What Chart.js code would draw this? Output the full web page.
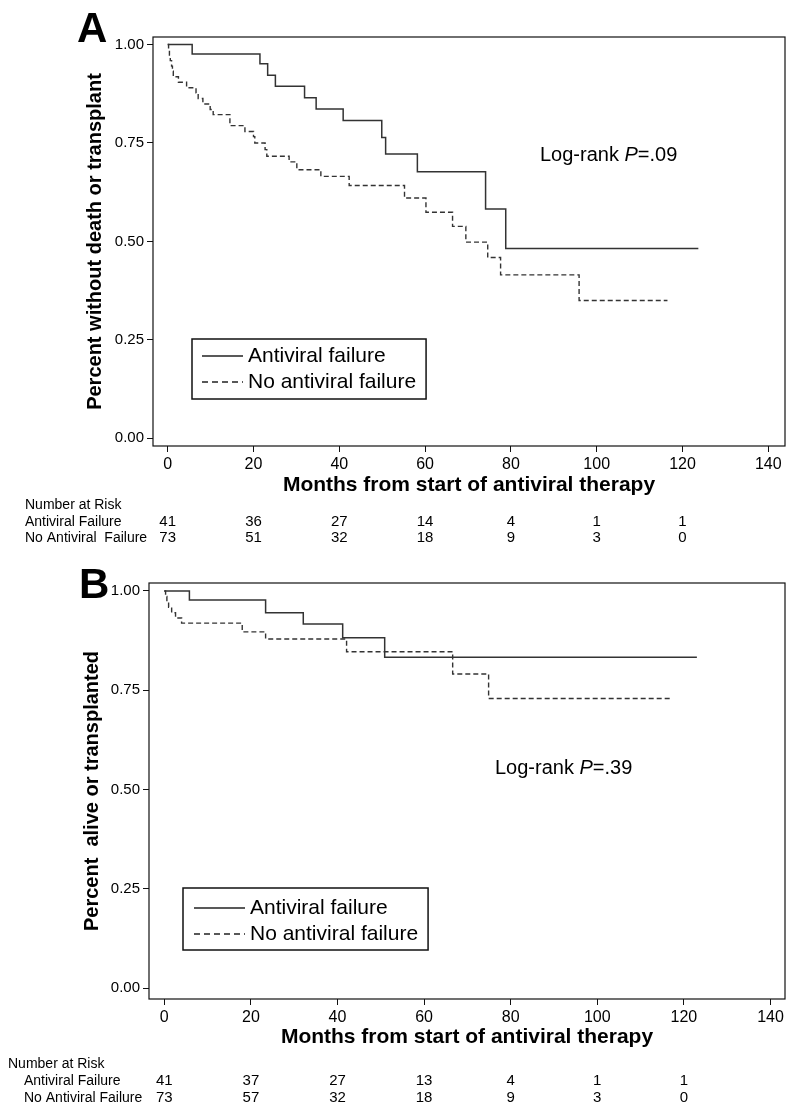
<!DOCTYPE html>
<html><head><meta charset="utf-8">
<script src="https://cdn.jsdelivr.net/npm/chart.js@4.4.1/dist/chart.umd.min.js"></script>
<style>
html,body{margin:0;padding:0;background:#fff;}
canvas{display:block;}
</style></head>
<body>
<canvas id="chartA" width="800" height="558"></canvas>
<canvas id="chartB" width="800" height="558"></canvas>
<script>
// ---------- data ----------
const xTickValues = [0, 20, 40, 60, 80, 100, 120, 140];
const yTickValues = [0, 0.25, 0.5, 0.75, 1];
const riskTimes = [0, 20, 40, 60, 80, 100, 120];
const seriesNames = ['Antiviral failure', 'No antiviral failure'];

// Panel A: death or transplant
const aFailTime = [0, 5.7, 21.5, 23.3, 25.1, 31.9, 34.6, 40.9, 49.9, 50.8, 58.2, 74.1, 78.8, 123.7];
const aFailSurv = [1.0, 0.976, 0.951, 0.922, 0.894, 0.865, 0.836, 0.807, 0.764, 0.722, 0.677, 0.582, 0.482, 0.482];
const aNoFailTime = [0, 0.2, 0.4, 0.6, 0.9, 1.1, 1.3, 2.5, 4.4, 6.6, 7.1, 8.2, 9.9, 10.6, 14.5, 18.0, 20.0, 20.3, 22.7, 23.1, 28.3, 30.1, 35.7, 42.3, 55.2, 60.2, 66.4, 69.5, 74.6, 77.6, 95.9, 116.5];
const aNoFailSurv = [1.0, 0.986, 0.973, 0.959, 0.945, 0.932, 0.918, 0.904, 0.890, 0.877, 0.863, 0.849, 0.835, 0.822, 0.794, 0.779, 0.766, 0.750, 0.733, 0.716, 0.702, 0.682, 0.665, 0.642, 0.610, 0.574, 0.538, 0.498, 0.459, 0.415, 0.350, 0.350];
const aRiskFail = [41, 36, 27, 14, 4, 1, 1];
const aRiskNoFail = [73, 51, 32, 18, 9, 3, 0];

// Panel B: alive or transplanted
const bFailTime = [0, 5.8, 23.4, 32.1, 41.2, 50.9, 123.0];
const bFailSurv = [1.0, 0.977, 0.945, 0.917, 0.882, 0.833, 0.833];
const bNoFailTime = [0, 0.3, 0.6, 1.0, 1.7, 2.6, 4.0, 18.0, 23.4, 42.1, 66.6, 74.9, 116.8];
const bNoFailSurv = [1.0, 0.986, 0.973, 0.959, 0.945, 0.932, 0.919, 0.897, 0.879, 0.847, 0.791, 0.729, 0.729];
const bRiskFail = [41, 37, 27, 13, 4, 1, 1];
const bRiskNoFail = [73, 57, 32, 18, 9, 3, 0];

// ---------- helpers ----------
const FONT = '"Liberation Sans", Arial, Helvetica, sans-serif';
const toPts = (ts, ss) => ts.map((t, i) => ({x: t, y: ss[i]}));

const panelPlugin = {
  id: 'panelDecor',
  afterDraw(chart, args, p) {
    const ctx = chart.ctx;
    const ca = chart.chartArea;
    const xs = chart.scales.x;
    ctx.save();
    // frame
    ctx.strokeStyle = '#111';
    ctx.lineWidth = 1.2;
    ctx.strokeRect(ca.left, ca.top, ca.right - ca.left, ca.bottom - ca.top);
    // panel letter
    ctx.fillStyle = '#000';
    ctx.font = 'bold 42px ' + FONT;
    ctx.textAlign = 'left';
    ctx.textBaseline = 'alphabetic';
    ctx.fillText(p.letter, p.letterX, p.letterY);
    // log-rank
    ctx.textBaseline = 'middle';
    ctx.font = '20px ' + FONT;
    let x = p.lrX;
    ctx.fillText('Log-rank ', x, p.lrY);
    x += ctx.measureText('Log-rank ').width;
    ctx.font = 'italic 20px ' + FONT;
    ctx.fillText('P', x, p.lrY);
    x += ctx.measureText('P').width;
    ctx.font = '20px ' + FONT;
    ctx.fillText(p.lrText, x, p.lrY);
    // legend
    ctx.font = '21px ' + FONT;
    const tw = Math.max(...seriesNames.map(s => ctx.measureText(s).width));
    const boxW = (p.legTextX - p.legX) + tw + 10;
    ctx.strokeStyle = '#111';
    ctx.lineWidth = 1.5;
    ctx.strokeRect(p.legX, p.legY, boxW, p.legH);
    ctx.strokeStyle = '#222';
    ctx.lineWidth = 1.5;
    ctx.beginPath();
    ctx.moveTo(p.legLineX0, p.legRowY[0]); ctx.lineTo(p.legLineX1, p.legRowY[0]);
    ctx.stroke();
    ctx.setLineDash([6, 4]);
    ctx.beginPath();
    ctx.moveTo(p.legLineX0, p.legRowY[1]); ctx.lineTo(p.legLineX1, p.legRowY[1]);
    ctx.stroke();
    ctx.setLineDash([]);
    ctx.fillStyle = '#000';
    ctx.fillText(seriesNames[0], p.legTextX, p.legRowY[0]);
    ctx.fillText(seriesNames[1], p.legTextX, p.legRowY[1]);
    // number at risk
    ctx.font = '14px ' + FONT;
    ctx.textAlign = 'left';
    ctx.fillText('Number at Risk', p.riskTitleX, p.riskRowY[0]);
    ctx.fillText(p.rowLabels[0], p.rowLabelX, p.riskRowY[1]);
    ctx.fillText(p.rowLabels[1], p.rowLabelX, p.riskRowY[2]);
    ctx.textAlign = 'center';
    ctx.font = '15px ' + FONT;
    riskTimes.forEach((t, i) => {
      const px = xs.getPixelForValue(t);
      ctx.fillText(String(p.riskFail[i]), px, p.riskRowY[1]);
      ctx.fillText(String(p.riskNoFail[i]), px, p.riskRowY[2]);
    });
    ctx.restore();
  }
};

function makePanel(id, cfg) {
  return new Chart(document.getElementById(id), {
    type: 'line',
    data: {
      datasets: [
        {label: seriesNames[0], data: toPts(cfg.failT, cfg.failS), borderColor: '#333', borderWidth: 1.5,
         stepped: 'before', pointRadius: 0, fill: false},
        {label: seriesNames[1], data: toPts(cfg.noT, cfg.noS), borderColor: '#333', borderWidth: 1.4,
         borderDash: [5, 3], stepped: 'before', pointRadius: 0, fill: false}
      ]
    },
    options: {
      responsive: false,
      animation: false,
      layout: {padding: cfg.pad},
      plugins: {legend: {display: false}, tooltip: {enabled: false}, panelDecor: cfg.decor},
      scales: {
        x: {
          type: 'linear', min: cfg.xMin, max: cfg.xMax,
          afterBuildTicks: s => { s.ticks = xTickValues.map(v => ({value: v})); },
          afterFit: s => { s.height = 60; },
          grid: {display: true, drawOnChartArea: false, drawTicks: true, tickLength: 6, tickColor: '#111', tickWidth: 1},
          border: {display: false},
          ticks: {color: '#000', font: {family: FONT, size: 16}, padding: 3, maxRotation: 0, autoSkip: false},
          title: {display: true, text: 'Months from start of antiviral therapy', color: '#000',
                  font: {family: FONT, size: 21, weight: 'bold'}, padding: {top: 4, bottom: cfg.xTitlePad}}
        },
        y: {
          type: 'linear', min: cfg.yMin, max: cfg.yMax,
          afterBuildTicks: s => { s.ticks = yTickValues.map(v => ({value: v})); },
          afterFit: s => { s.width = cfg.yWidth; },
          grid: {display: true, drawOnChartArea: false, drawTicks: true, tickLength: 6, tickColor: '#111', tickWidth: 1},
          border: {display: false},
          ticks: {color: '#000', font: {family: FONT, size: 15}, padding: 3, callback: v => Number(v).toFixed(2)},
          title: {display: true, text: cfg.yTitle, color: '#000',
                  font: {family: FONT, size: 20, weight: 'bold'}, padding: {top: cfg.yTitlePad, bottom: 0}}
        }
      }
    },
    plugins: [panelPlugin]
  });
}

makePanel('chartA', {
  failT: aFailTime, failS: aFailSurv, noT: aNoFailTime, noS: aNoFailSurv,
  pad: {left: 0, right: 15, top: 37, bottom: 52},
  xMin: -3.43, xMax: 143.9, yMin: -0.0196, yMax: 1.019,
  yWidth: 153, yTitlePad: 83, xTitlePad: 8,
  yTitle: 'Percent without death or transplant',
  decor: {
    letter: 'A', letterX: 77, letterY: 42,
    lrX: 540, lrY: 155, lrText: '=.09',
    legX: 192, legY: 339, legH: 60, legRowY: [356, 382], legLineX0: 202, legLineX1: 243, legTextX: 248,
    riskTitleX: 25, rowLabelX: 25, riskRowY: [505, 522, 538],
    rowLabels: ['Antiviral Failure', 'No Antiviral  Failure'],
    riskFail: aRiskFail, riskNoFail: aRiskNoFail
  }
});

makePanel('chartB', {
  failT: bFailTime, failS: bFailSurv, noT: bNoFailTime, noS: bNoFailSurv,
  pad: {left: 0, right: 15, top: 25, bottom: 57},
  xMin: -3.53, xMax: 143.35, yMin: -0.0277, yMax: 1.020,
  yWidth: 149, yTitlePad: 80, xTitlePad: 9,
  yTitle: 'Percent  alive or transplanted',
  decor: {
    letter: 'B', letterX: 79, letterY: 40,
    lrX: 495, lrY: 210, lrText: '=.39',
    legX: 183, legY: 330, legH: 62, legRowY: [350, 376], legLineX0: 194, legLineX1: 245, legTextX: 250,
    riskTitleX: 8, rowLabelX: 24, riskRowY: [506, 523, 540],
    rowLabels: ['Antiviral Failure', 'No Antiviral Failure'],
    riskFail: bRiskFail, riskNoFail: bRiskNoFail
  }
});
</script>
</body></html>
